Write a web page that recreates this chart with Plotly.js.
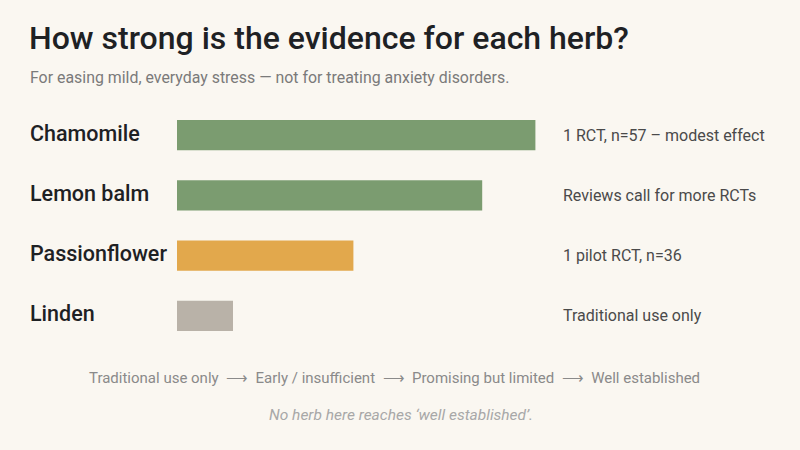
<!DOCTYPE html>
<html>
<head>
<meta charset="utf-8">
<script src="https://cdn.plot.ly/plotly-3.0.1.min.js"></script>
<style>
  html, body { margin: 0; padding: 0; background: #faf7f1; }
  #chart { width: 800px; height: 450px; }
</style>
</head>
<body>
<div id="chart"></div>
<script>
// evidence strength per herb (0-100 scale)
const herbs = ['Chamomile', 'Lemon balm', 'Passionflower', 'Linden'];
const strength = [64, 54.5, 31.5, 10];
const barColors = ['#7b9c70', '#7b9c70', '#e2a84c', '#b9b2a8'];
const notes = [
  '1 RCT, n=57 \u2013 modest effect',
  'Reviews call for more RCTs',
  '1 pilot RCT, n=36',
  'Traditional use only'
];
const scaleSteps = ['Traditional use only', 'Early / insufficient', 'Promising but limited', 'Well established'];

const chart = document.getElementById('chart');

// plot area runs from y=104.6px to y=345.8px, this turns pixels into paper units
function py(px) { return (345.8 - px) / 241.2; }
// same for x: plot area starts at 177px and is 560px wide (annotations add ~2px pad)
function pxx(px) { return (px - 2 - 177) / 560; }

var data = [{
  type: 'bar',
  orientation: 'h',
  x: strength,
  y: herbs,
  marker: { color: barColors },
  hoverinfo: 'none',
  textposition: 'none'
}];

var annotations = [];
herbs.forEach(function (h, i) {
  annotations.push({
    text: h, xref: 'paper', yref: 'y', x: pxx(30), y: h,
    xanchor: 'left', yanchor: 'middle', yshift: 2, showarrow: false,
    font: { family: 'Roboto', size: 21.5, weight: 500, color: '#1e2124' }
  });
  annotations.push({
    text: notes[i], xref: 'paper', yref: 'y', x: pxx(563), y: h,
    xanchor: 'left', yanchor: 'middle', showarrow: false,
    font: { family: 'Roboto', size: 16, color: '#4a4a4a' }
  });
});

annotations.push({
  text: 'For easing mild, everyday stress \u2014 not for treating anxiety disorders.',
  xref: 'paper', yref: 'paper', x: pxx(30), y: py(77),
  xanchor: 'left', yanchor: 'middle', showarrow: false,
  font: { family: 'Roboto', size: 15.9, color: '#7a7a7a' }
});
annotations.push({
  text: scaleSteps.join('  \u27F6  '),
  xref: 'paper', yref: 'paper', x: (394 - 177) / 560, y: py(378),
  xanchor: 'center', yanchor: 'middle', showarrow: false,
  font: { family: 'Roboto', size: 15, color: '#8a8a8a' }
});
annotations.push({
  text: 'No herb here reaches \u2018well established\u2019.',
  xref: 'paper', yref: 'paper', x: (401 - 177) / 560, y: py(415),
  xanchor: 'center', yanchor: 'middle', showarrow: false,
  font: { family: 'Roboto', size: 15.5, style: 'italic', color: '#a8a8a8' }
});

var layout = {
  width: 800,
  height: 450,
  paper_bgcolor: '#faf7f1',
  plot_bgcolor: '#faf7f1',
  margin: { l: 177, r: 63, t: 104.6, b: 104.2 },
  bargap: 0.5,
  showlegend: false,
  title: {
    text: 'How strong is the evidence for each herb?',
    xref: 'container', yref: 'container',
    x: 29 / 800, xanchor: 'left',
    y: 1 - 38 / 450, yanchor: 'middle',
    font: { family: 'Roboto', size: 32, weight: 500, color: '#1e2124' }
  },
  xaxis: {
    range: [0, 100], visible: false, fixedrange: true
  },
  yaxis: {
    categoryorder: 'array', categoryarray: herbs, autorange: 'reversed',
    showticklabels: false, showgrid: false, zeroline: false, showline: false,
    ticks: '', fixedrange: true
  },
  annotations: annotations
};

Plotly.newPlot(chart, data, layout, { displayModeBar: false, staticPlot: true });
</script>
</body>
</html>
